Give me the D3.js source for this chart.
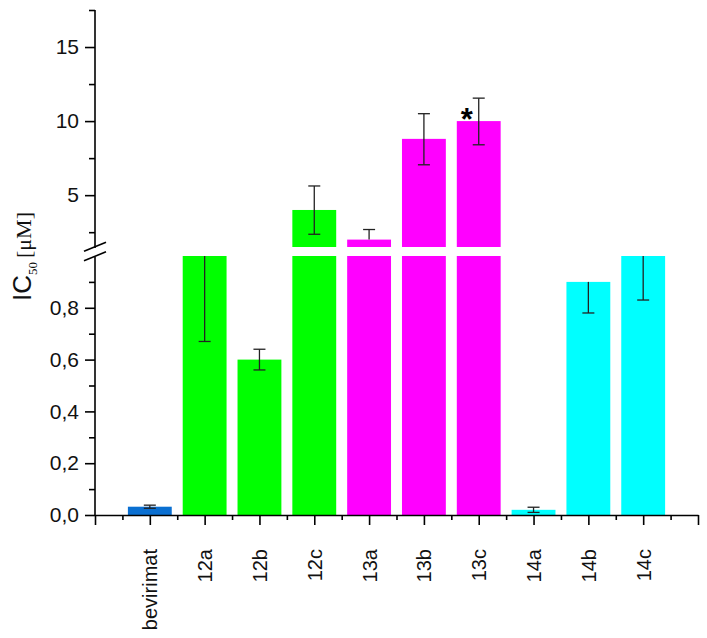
<!DOCTYPE html>
<html>
<head>
<meta charset="utf-8">
<script src="https://cdn.jsdelivr.net/npm/d3@7"></script>
<style>
  body { margin: 0; background: #fff; }
  svg { display: block; }
</style>
</head>
<body>
<script>
// data
var categories = ["bevirimat", "12a", "12b", "12c", "13a", "13b", "13c", "14a", "14b", "14c"];
var values     = [0.032, 1.0, 0.6, 4.0, 2.0, 8.8, 10.0, 0.02, 0.9, 1.0];
var errLow     = [0.026, 0.67, 0.56, 2.36, 2.0, 7.05, 8.4, 0.01, 0.78, 0.83];
var errHigh    = [0.038, 1.0, 0.64, 5.62, 2.68, 10.5, 11.55, 0.03, 0.9, 1.0];
var colors     = ["#0a6fd1", "#00ff00", "#00ff00", "#00ff00", "#ff00ff", "#ff00ff", "#ff00ff", "#00ffff", "#00ffff", "#00ffff"];
var upperTicks = [5, 10, 15];
var upperMinor = [2.5, 7.5, 12.5, 17.5];
var lowerTicks = [0, 0.2, 0.4, 0.6, 0.8];
var lowerMinor = [0.1, 0.3, 0.5, 0.7, 0.9];
var starIndex = 6;

var width = 707, height = 638;
var axisX = 95, axisY = 515;

var svg = d3.select("body").append("svg")
    .attr("width", width)
    .attr("height", height)
    .style("font-family", "'Liberation Sans', Arial, sans-serif");

// scales: x is linear so ticks can sit on the half positions too
var x = d3.scaleLinear().domain([0, 11]).range([axisX, 698]);
var yLow = d3.scaleLinear().domain([0, 1]).range([axisY, 256]);
var yUp = d3.scaleLinear().domain([1.5, 17.5]).range([247, 10]);
var barW = (x(1) - x(0)) * 0.8;

var comma = function(d) { return d3.format(".1f")(d).replace(".", ","); };

// bars, lower segment
svg.append("g").selectAll("rect")
    .data(values)
  .enter().append("rect")
    .attr("x", function(d, i) { return x(i + 1) - barW / 2; })
    .attr("width", barW)
    .attr("y", function(d) { return yLow(Math.min(d, 1)); })
    .attr("height", function(d) { return axisY - yLow(Math.min(d, 1)); })
    .attr("fill", function(d, i) { return colors[i]; });

// bars, upper segment (only values above the break)
svg.append("g").selectAll("rect")
    .data(values.map(function(d, i) { return {v: d, i: i}; }).filter(function(d) { return d.v > 1.5; }))
  .enter().append("rect")
    .attr("x", function(d) { return x(d.i + 1) - barW / 2; })
    .attr("width", barW)
    .attr("y", function(d) { return yUp(d.v); })
    .attr("height", function(d) { return yUp(1.5) - yUp(d.v); })
    .attr("fill", function(d) { return colors[d.i]; });

// error bars, clipped to each segment
var errG = svg.append("g").attr("stroke", "#222").attr("stroke-width", 1.3);
var segs = [{s: yLow, lo: 0, hi: 1}, {s: yUp, lo: 1.5, hi: 17.5}];
values.forEach(function(v, i) {
  var cx = x(i + 1);
  segs.forEach(function(seg) {
    var a = Math.max(errLow[i], seg.lo), b = Math.min(errHigh[i], seg.hi);
    if (b <= a) return;
    errG.append("line").attr("x1", cx).attr("x2", cx)
      .attr("y1", seg.s(a)).attr("y2", seg.s(b));
    if (errLow[i] >= seg.lo && errLow[i] < v)
      errG.append("line").attr("x1", cx - 6).attr("x2", cx + 6)
        .attr("y1", seg.s(errLow[i])).attr("y2", seg.s(errLow[i]));
    if (errHigh[i] <= seg.hi && errHigh[i] > v)
      errG.append("line").attr("x1", cx - 6).attr("x2", cx + 6)
        .attr("y1", seg.s(errHigh[i])).attr("y2", seg.s(errHigh[i]));
  });
});

// significance mark
svg.append("text")
    .attr("x", x(starIndex + 1) - 12)
    .attr("y", yUp(values[starIndex]) + 9)
    .attr("text-anchor", "middle")
    .attr("font-size", 31)
    .attr("font-weight", "bold")
    .text("*");

// y axes
function styleAxis(g) {
  g.selectAll("path, line").attr("stroke", "#000").attr("stroke-width", 1.6);
  g.selectAll("text").attr("font-size", 21).attr("fill", "#111");
}

var upAxis = svg.append("g").attr("transform", "translate(" + axisX + ",0)")
    .call(d3.axisLeft(yUp).tickValues(upperTicks).tickSize(10).tickPadding(6).tickSizeOuter(0));
upAxis.select(".domain").attr("d", "M0," + yUp(17.5) + "V" + (yUp(1.5) + 1));
styleAxis(upAxis);
var upMin = svg.append("g").attr("transform", "translate(" + axisX + ",0)")
    .call(d3.axisLeft(yUp).tickValues(upperMinor).tickSize(6).tickFormat("").tickSizeOuter(0));
upMin.select(".domain").remove();
styleAxis(upMin);

var lowAxis = svg.append("g").attr("transform", "translate(" + axisX + ",0)")
    .call(d3.axisLeft(yLow).tickValues(lowerTicks).tickSize(10).tickPadding(6).tickFormat(comma).tickSizeOuter(0));
lowAxis.select(".domain").attr("d", "M0," + (yLow(1) + 1) + "V" + axisY);
styleAxis(lowAxis);
var lowMin = svg.append("g").attr("transform", "translate(" + axisX + ",0)")
    .call(d3.axisLeft(yLow).tickValues(lowerMinor).tickSize(6).tickFormat("").tickSizeOuter(0));
lowMin.select(".domain").remove();
styleAxis(lowMin);

// break marks
var bx = axisX, by = (yUp(1.5) + yLow(1)) / 2;
svg.append("g").attr("stroke", "#000").attr("stroke-width", 1.6)
  .selectAll("line").data([-4.8, 4.8])
  .enter().append("line")
    .attr("x1", bx - 11).attr("x2", bx + 11)
    .attr("y1", function(d) { return by + d + 4.5; })
    .attr("y2", function(d) { return by + d - 4.5; });

// x axis
var xAxis = svg.append("g").attr("transform", "translate(0," + axisY + ")")
    .call(d3.axisBottom(x).tickValues(d3.range(0, 12)).tickSize(10).tickSizeOuter(0)
      .tickFormat(function(d) { return categories[d - 1] || ""; }));
styleAxis(xAxis);
xAxis.selectAll("text")
    .attr("font-size", 20)
    .attr("transform", "rotate(-90)")
    .attr("text-anchor", "end")
    .attr("x", -34)
    .attr("y", 0)
    .attr("dy", "0.35em");
var xMin = svg.append("g").attr("transform", "translate(0," + axisY + ")")
    .call(d3.axisBottom(x).tickValues(d3.range(0.5, 11, 1)).tickSize(5).tickFormat(""));
xMin.select(".domain").remove();
styleAxis(xMin);

// y label: IC50 [µM]
var yl = svg.append("text")
    .attr("transform", "translate(31,301) rotate(-90)")
    .attr("fill", "#111");
yl.append("tspan").attr("font-size", 26).text("IC");
yl.append("tspan").attr("font-size", 13).attr("dy", 6)
    .attr("font-family", "'Liberation Serif', 'Times New Roman', serif").text("50");
yl.append("tspan").attr("font-size", 22).attr("dy", -6).attr("dx", 4)
    .attr("font-family", "'Liberation Serif', 'Times New Roman', serif").text("[μM]");
</script>
</body>
</html>
